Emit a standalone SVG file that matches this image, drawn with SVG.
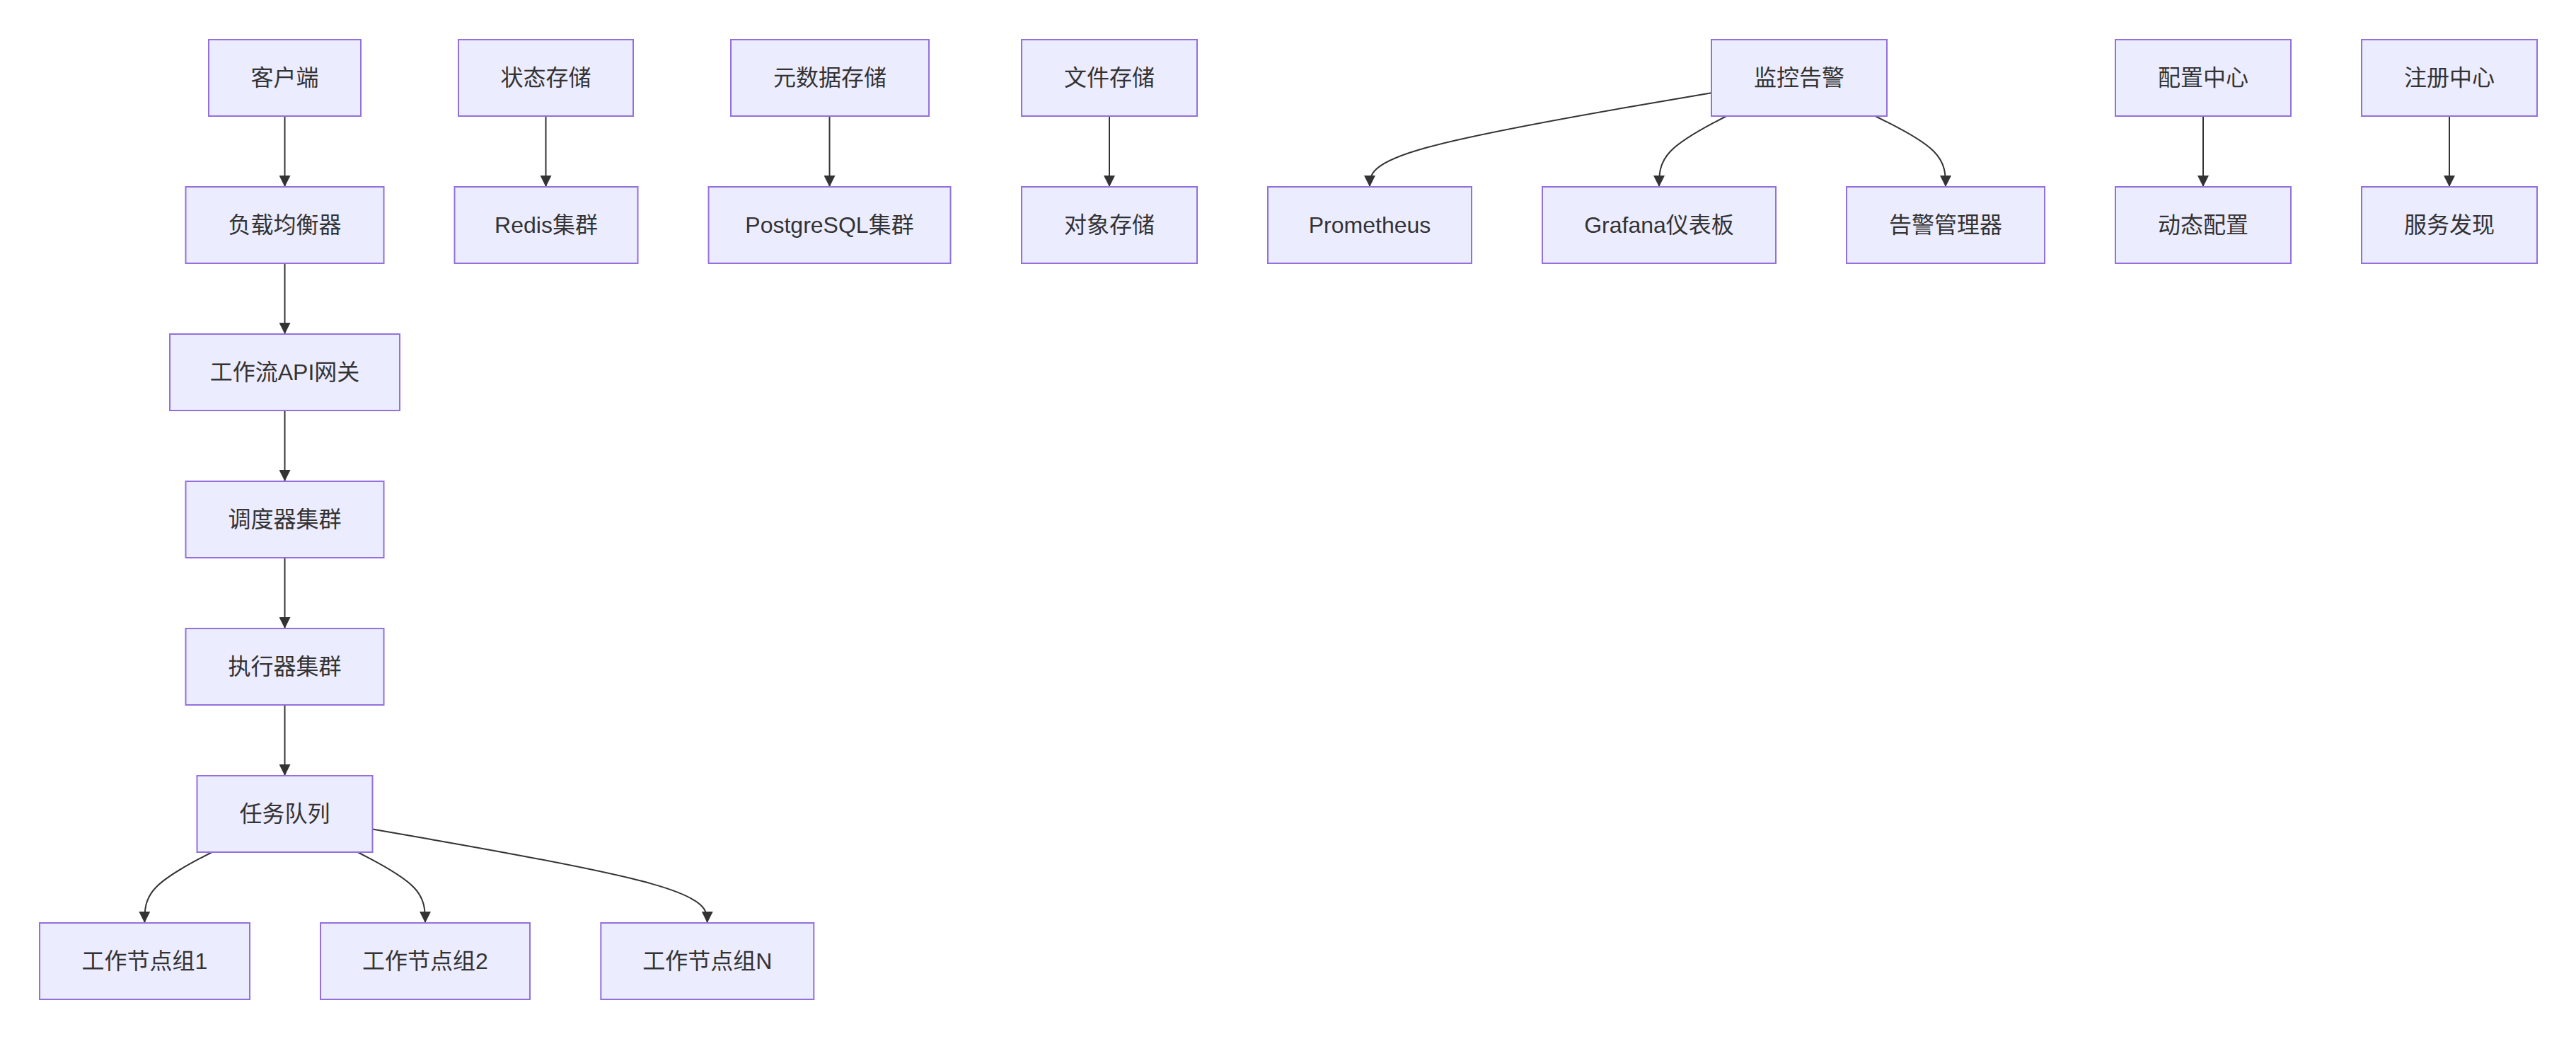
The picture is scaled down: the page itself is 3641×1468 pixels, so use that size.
<svg xmlns="http://www.w3.org/2000/svg" width="3641" height="1468" viewBox="0 0 3641 1468">
<style>
.node rect{fill:#ECECFF;stroke:#9370DB;stroke-width:2}
.node text{font-family:"Liberation Sans",Arial,"Noto Sans CJK SC",sans-serif;font-size:32px;fill:#333333;text-anchor:middle;dominant-baseline:central}
.edges path{fill:none;stroke:#333333;stroke-width:2;marker-end:url(#arrow)}
</style>
<defs>
<marker id="arrow" viewBox="0 0 10 10" refX="10" refY="5" markerUnits="userSpaceOnUse" markerWidth="16" markerHeight="16" orient="auto">
<path d="M0,0 L10,5 L0,10 z" fill="#333333"/>
</marker>
</defs>
<rect width="3641" height="1468" fill="#ffffff"/>
<g class="edges">
<path d="M402.5,164 L402.5,264"/>
<path d="M402.5,372 L402.5,472"/>
<path d="M402.5,580 L402.5,680"/>
<path d="M402.5,788 L402.5,888"/>
<path d="M402.5,996 L402.5,1096"/>
<path d="M771.5,164 L771.5,264"/>
<path d="M1172.5,164 L1172.5,264"/>
<path d="M1568,164 L1568,264"/>
<path d="M3114,164 L3114,264"/>
<path d="M3462,164 L3462,264"/>
<path d="M2419,131.2 L2338.5,145 C2258,158.8 2097,186.4 2016.5,208.5 C1936,230.7 1936,247.3 1936,264"/>
<path d="M2440.2,164 L2424.3,172.3 C2408.5,180.7 2376.7,197.3 2360.9,214 C2345,230.7 2345,247.3 2345,264"/>
<path d="M2650.5,164 L2667,172.3 C2683.7,180.7 2716.8,197.3 2733.4,214 C2750,230.7 2750,247.3 2750,264"/>
<path d="M299.6,1204 L283.7,1212.3 C267.8,1220.7 236.1,1237.3 220.2,1254 C204.3,1270.7 204.3,1287.3 204.3,1304"/>
<path d="M505.6,1204 L521.5,1212.3 C537.4,1220.7 569.2,1237.3 585.1,1254 C601,1270.7 601,1287.3 601,1304"/>
<path d="M526.5,1171.6 L605.4,1185.3 C684.2,1199.1 842,1226.5 920.8,1248.6 C999.7,1270.7 999.7,1287.3 999.7,1304"/>
</g>
<g id="client" class="node"><rect x="295" y="56" width="215" height="108"/><text x="402.5" y="110">客户端</text></g>
<g id="lb" class="node"><rect x="262.5" y="264" width="280" height="108"/><text x="402.5" y="318">负载均衡器</text></g>
<g id="gateway" class="node"><rect x="240" y="472" width="325" height="108"/><text x="402.5" y="526">工作流API网关</text></g>
<g id="scheduler" class="node"><rect x="262.5" y="680" width="280" height="108"/><text x="402.5" y="734">调度器集群</text></g>
<g id="executor" class="node"><rect x="262.5" y="888" width="280" height="108"/><text x="402.5" y="942">执行器集群</text></g>
<g id="queue" class="node"><rect x="278.5" y="1096" width="248" height="108"/><text x="402.5" y="1150">任务队列</text></g>
<g id="worker1" class="node"><rect x="56" y="1304" width="297" height="108"/><text x="204.3" y="1358">工作节点组1</text></g>
<g id="worker2" class="node"><rect x="453" y="1304" width="296" height="108"/><text x="601" y="1358">工作节点组2</text></g>
<g id="workerN" class="node"><rect x="849.3" y="1304" width="301" height="108"/><text x="999.7" y="1358">工作节点组N</text></g>
<g id="state" class="node"><rect x="648" y="56" width="247" height="108"/><text x="771.5" y="110">状态存储</text></g>
<g id="redis" class="node"><rect x="642.5" y="264" width="259" height="108"/><text x="772" y="318">Redis集群</text></g>
<g id="meta" class="node"><rect x="1033" y="56" width="280" height="108"/><text x="1173" y="110">元数据存储</text></g>
<g id="pg" class="node"><rect x="1001.5" y="264" width="342" height="108"/><text x="1172.5" y="318">PostgreSQL集群</text></g>
<g id="file" class="node"><rect x="1444" y="56" width="248" height="108"/><text x="1568" y="110">文件存储</text></g>
<g id="object" class="node"><rect x="1444" y="264" width="248" height="108"/><text x="1568" y="318">对象存储</text></g>
<g id="monitor" class="node"><rect x="2419" y="56" width="248" height="108"/><text x="2543" y="110">监控告警</text></g>
<g id="prometheus" class="node"><rect x="1792" y="264" width="288" height="108"/><text x="1936" y="318">Prometheus</text></g>
<g id="grafana" class="node"><rect x="2180" y="264" width="330" height="108"/><text x="2345" y="318">Grafana仪表板</text></g>
<g id="alertmgr" class="node"><rect x="2610" y="264" width="280" height="108"/><text x="2750" y="318">告警管理器</text></g>
<g id="config" class="node"><rect x="2990" y="56" width="248" height="108"/><text x="3114" y="110">配置中心</text></g>
<g id="dynconfig" class="node"><rect x="2990" y="264" width="248" height="108"/><text x="3114" y="318">动态配置</text></g>
<g id="registry" class="node"><rect x="3338" y="56" width="248" height="108"/><text x="3462" y="110">注册中心</text></g>
<g id="discovery" class="node"><rect x="3338" y="264" width="248" height="108"/><text x="3462" y="318">服务发现</text></g>
</svg>
